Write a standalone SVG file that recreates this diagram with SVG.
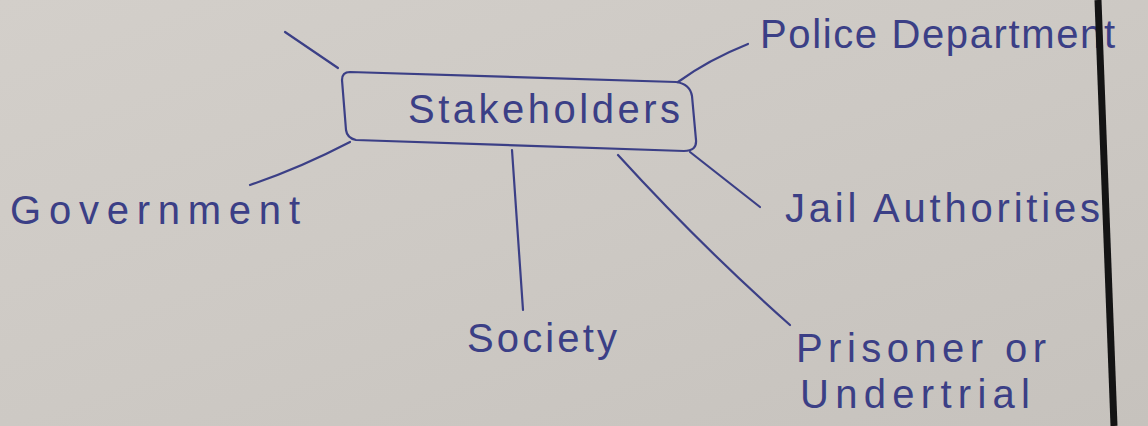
<svg xmlns="http://www.w3.org/2000/svg" width="1148" height="426" viewBox="0 0 1148 426">
  <defs>
    <linearGradient id="paper" x1="0" y1="0" x2="1" y2="1">
      <stop offset="0" stop-color="#d3cfca"/>
      <stop offset="0.5" stop-color="#cdc9c4"/>
      <stop offset="1" stop-color="#c6c2bd"/>
    </linearGradient>
  </defs>
  <style>
    .ink { fill: none; stroke: #3b3f86; stroke-width: 2.2; stroke-linecap: round; stroke-linejoin: round; }
    .lbl { font-family: "Liberation Sans", "DejaVu Sans", sans-serif; fill: #3b3f86; font-size: 40px; }
  </style>
  <rect x="0" y="0" width="1148" height="426" fill="url(#paper)"/>

  <g id="connectors">
    <path class="ink" d="M285,32 L338,68"/>
    <path class="ink" d="M678,82 Q708,60 748,44"/>
    <path class="ink" d="M350,142 Q300,168 250,185"/>
    <path class="ink" d="M512,150 L523,310"/>
    <path class="ink" d="M690,152 L760,207"/>
    <path class="ink" d="M618,155 Q700,245 790,325"/>
  </g>

  <g id="stakeholders">
    <path class="ink" d="M350,72 L676,82 Q690,84 692,96 L696,140 Q697,151 684,151 L356,140 Q347,138 346,130 L342,80 Q342,72 350,72 Z"/>
    <text class="lbl" x="408" y="123" textLength="272" lengthAdjust="spacing">Stakeholders</text>
  </g>
  <g id="police">
    <text class="lbl" x="760" y="48" textLength="355" lengthAdjust="spacing">Police Department</text>
  </g>
  <g id="government">
    <text class="lbl" x="10" y="224" textLength="290" lengthAdjust="spacing">Government</text>
  </g>
  <g id="jail">
    <text class="lbl" x="785" y="222" textLength="315" lengthAdjust="spacing">Jail Authorities</text>
  </g>
  <g id="society">
    <text class="lbl" x="467" y="352" textLength="150" lengthAdjust="spacing">Society</text>
  </g>
  <g id="prisoner">
    <text class="lbl" x="796" y="362" textLength="250" lengthAdjust="spacing">Prisoner or</text>
    <text class="lbl" x="800" y="408" textLength="230" lengthAdjust="spacing">Undertrial</text>
  </g>
  <line x1="1098" y1="0" x2="1114" y2="426" stroke="#141414" stroke-width="7"/>
</svg>
